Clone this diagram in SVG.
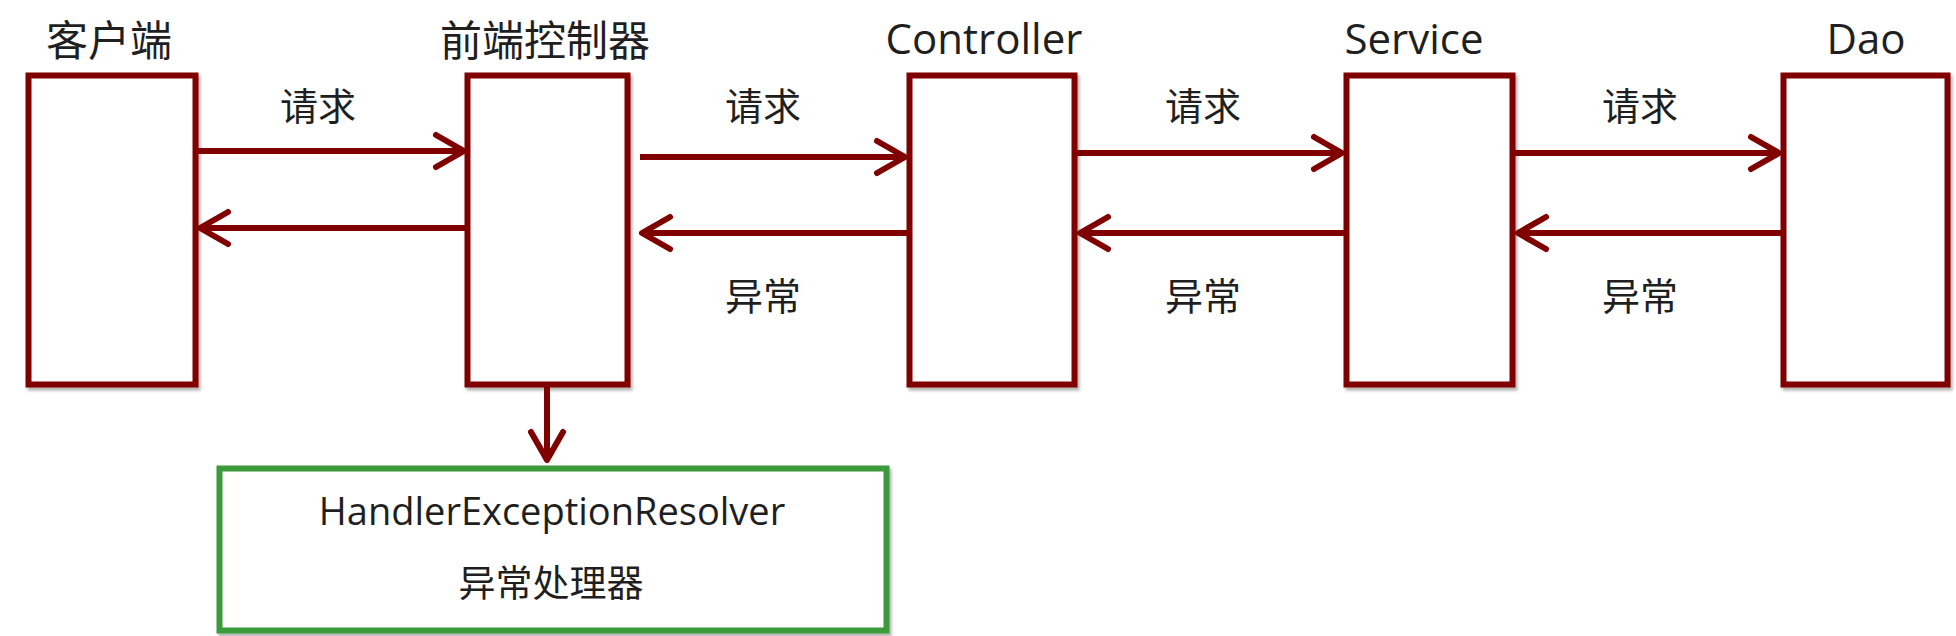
<svg xmlns="http://www.w3.org/2000/svg" width="1956" height="636" viewBox="0 0 1956 636">
<defs>
<filter id="sh" x="-10%" y="-10%" width="120%" height="120%">
<feDropShadow dx="2" dy="3" stdDeviation="1.5" flood-color="#000" flood-opacity="0.3"/>
</filter>
<marker id="arr" viewBox="-34 -20 38 40" refX="0" refY="0" markerWidth="38" markerHeight="40" markerUnits="userSpaceOnUse" orient="auto">
<path d="M-28,-16 L0,0 L-28,16" fill="none" stroke="#800000" stroke-width="6" stroke-linecap="round" stroke-linejoin="round"/>
</marker>
</defs>
<style>
.box{fill:#fff;stroke:#800000;stroke-width:6;filter:url(#sh)}
.gbox{fill:#fff;stroke:#3a9b3a;stroke-width:6;filter:url(#sh)}
.cn{font-family:"Noto Sans CJK SC","Noto Sans",sans-serif;fill:#1f1f1f;text-anchor:middle}
.en{font-family:"Open Sans","Noto Sans",sans-serif;fill:#1f1f1f;text-anchor:middle}
.t{font-size:42px}
.lb{font-size:38px}
.ln{fill:none;stroke:#800000;stroke-width:6;marker-end:url(#arr)}
</style>
<g id="client">
<rect class="box" x="28.5" y="75.5" width="167" height="309"/>
<text class="cn t" x="109" y="56">客户端</text>
</g>
<g id="dispatcher">
<rect class="box" x="467.5" y="75.5" width="160" height="309"/>
<text class="cn t" x="545" y="56">前端控制器</text>
</g>
<g id="controller">
<rect class="box" x="909.5" y="75.5" width="165" height="309"/>
<text class="en t" x="984" y="54">Controller</text>
</g>
<g id="service">
<rect class="box" x="1346.5" y="75.5" width="166" height="309"/>
<text class="en t" x="1414" y="54">Service</text>
</g>
<g id="dao">
<rect class="box" x="1783.5" y="75.5" width="164" height="309"/>
<text class="en t" x="1866" y="54">Dao</text>
</g>
<g id="resolver">
<rect class="gbox" x="219.5" y="468.5" width="667" height="162"/>
<text class="en" font-size="38" x="552" y="525">HandlerExceptionResolver</text>
<text class="cn" font-size="37" x="551" y="597">异常处理器</text>
</g>
<g id="connectors">
<line class="ln" x1="198" y1="151" x2="464" y2="151"/>
<line class="ln" x1="465" y1="228" x2="200" y2="228"/>
<line class="ln" x1="640" y1="157" x2="905" y2="157"/>
<line class="ln" x1="907" y1="233" x2="642" y2="233"/>
<line class="ln" x1="1077" y1="153" x2="1342" y2="153"/>
<line class="ln" x1="1344" y1="233" x2="1080" y2="233"/>
<line class="ln" x1="1515" y1="153" x2="1779" y2="153"/>
<line class="ln" x1="1781" y1="233" x2="1518" y2="233"/>
<line class="ln" x1="547" y1="387" x2="547" y2="460"/>
<text class="cn lb" x="318" y="120">请求</text>
<text class="cn lb" x="763" y="120">请求</text>
<text class="cn lb" x="1203" y="120">请求</text>
<text class="cn lb" x="1640" y="120">请求</text>
<text class="cn lb" x="763" y="310">异常</text>
<text class="cn lb" x="1203" y="310">异常</text>
<text class="cn lb" x="1640" y="310">异常</text>
</g>
</svg>
